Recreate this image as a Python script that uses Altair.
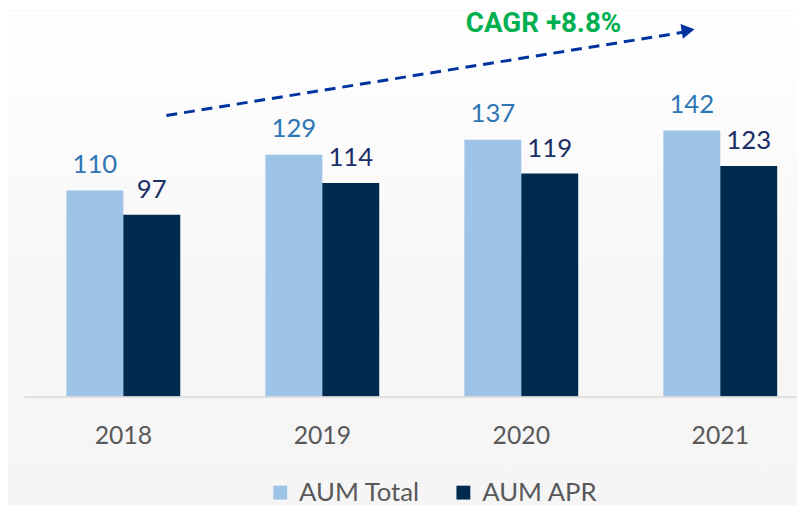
import altair as alt
import pandas as pd

years = ["2018", "2019", "2020", "2021"]
aum_total = [110, 129, 137, 142]
aum_apr = [97, 114, 119, 123]
series_names = ["AUM Total", "AUM APR"]
series_colors = ["#9DC3E6", "#002A4E"]
label_colors = ["#2E75B6", "#1A2F66"]
cagr_text = "CAGR +8.8%"

rows = []
for i, y in enumerate(years):
    rows.append({"year": y, "series": series_names[0], "value": aum_total[i]})
    rows.append({"year": y, "series": series_names[1], "value": aum_apr[i]})
df = pd.DataFrame(rows)

W, H = 797, 390
FONT = "Lato"

x_enc = alt.X("year:N", sort=years,
              scale=alt.Scale(range=[16, 820], paddingInner=0.428, paddingOuter=0.214),
              axis=alt.Axis(title=None, ticks=False, domainColor="#D9D9D9", domainWidth=1.5,
                            labelFont=FONT, labelFontSize=25, labelColor="#595959",
                            labelPadding=27, labelAngle=0, zindex=1))
xo_enc = alt.XOffset("series:N", sort=series_names,
                     scale=alt.Scale(paddingInner=0, paddingOuter=0))
y_enc = alt.Y("value:Q", scale=alt.Scale(domain=[0, 206], nice=False), axis=None)

bg = alt.Chart(alt.Data(values=[{}])).mark_rect(
    fill=alt.LinearGradient(gradient="linear",
                            stops=[alt.GradientStop(color="#FFFFFF", offset=0),
                                   alt.GradientStop(color="#F7F7F7", offset=0.55),
                                   alt.GradientStop(color="#F5F5F5", offset=1)],
                            x1=0, x2=0, y1=0, y2=1)
).encode(x=alt.value(0), x2=alt.value(W), y=alt.value(0), y2=alt.value(500))

bars = alt.Chart(df).mark_bar(size=57.5).encode(
    x=x_enc, xOffset=xo_enc, y=y_enc,
    color=alt.Color("series:N", sort=series_names,
                    scale=alt.Scale(domain=series_names, range=series_colors),
                    legend=alt.Legend(title=None, orient="none", direction="horizontal",
                                      legendX=262, legendY=474, symbolType="square",
                                      symbolSize=196, symbolStrokeWidth=0,
                                      labelFont=FONT, labelFontSize=26, labelColor="#595959",
                                      labelOffset=6, columnPadding=30, zindex=1))
)

texts = []
for s, c, dy in zip(series_names, label_colors, [-18, -17]):
    texts.append(alt.Chart(df).transform_filter(alt.datum.series == s).mark_text(
        font=FONT, fontSize=26, color=c, dy=dy, baseline="alphabetic"
    ).encode(x=x_enc, xOffset=xo_enc, y=y_enc, text="value:Q"))

arrow_line = alt.Chart(alt.Data(values=[{}])).mark_rule(
    color="#00339F", strokeWidth=3, strokeDash=[11, 7]
).encode(x=alt.value(160), y=alt.value(106), x2=alt.value(682), y2=alt.value(22))

arrow_head = alt.Chart(alt.Data(values=[{}])).mark_point(
    shape="triangle-right", filled=True, color="#00339F", size=230, angle=351, opacity=1
).encode(x=alt.value(687), y=alt.value(20))

cagr = alt.Chart(alt.Data(values=[{"t": cagr_text}])).mark_text(
    font="Roboto", fontWeight="bold", fontSize=28, color="#00B050",
    baseline="alphabetic", align="center"
).encode(x=alt.value(541), y=alt.value(22), text="t:N")

chart = alt.layer(bg, bars, *texts, arrow_line, arrow_head, cagr).properties(
    width=W, height=H,
    autosize=alt.AutoSizeParams(type="none"),
    padding={"left": 0, "top": 0, "right": 0, "bottom": 108},
).configure_view(stroke=None).configure(background="#FFFFFF")

chart.save("out.html", embed_options={"renderer": "svg", "actions": False})
